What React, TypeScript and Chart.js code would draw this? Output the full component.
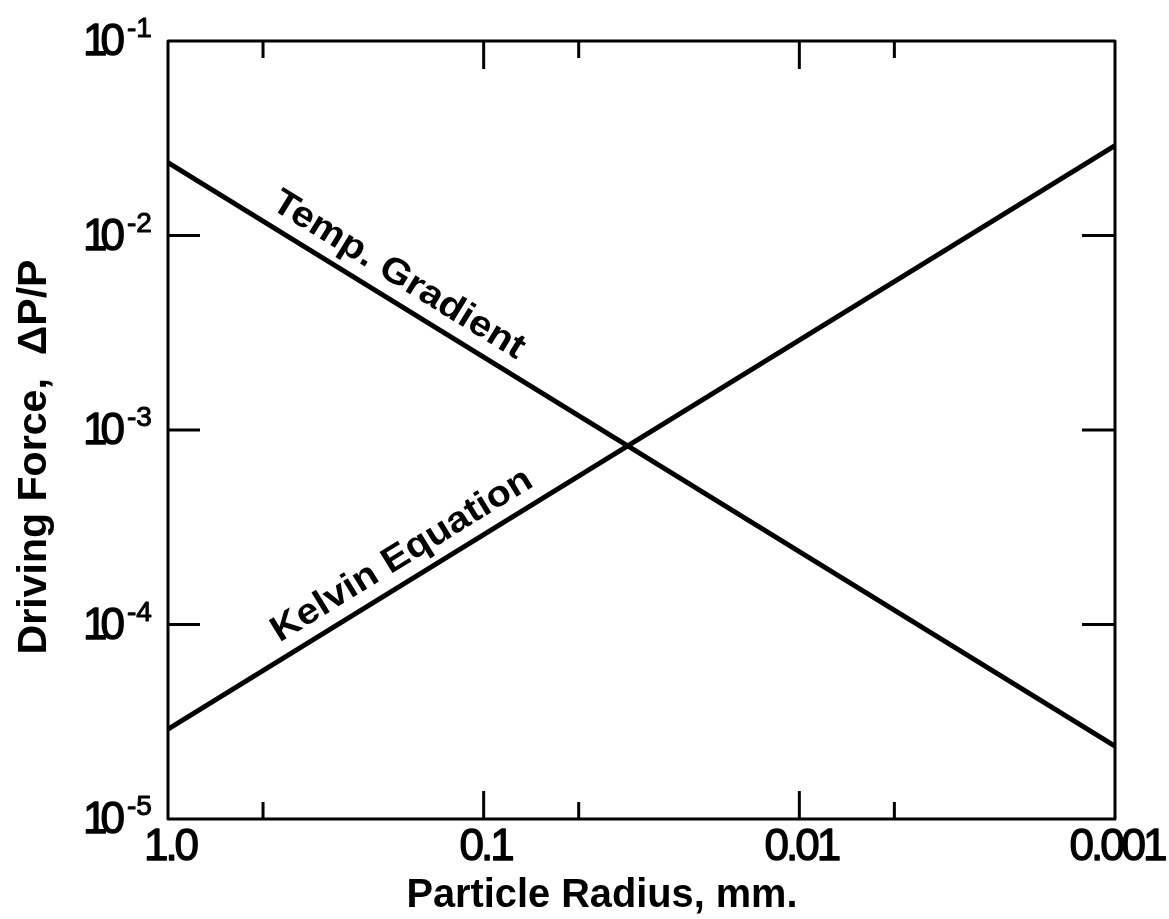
import { useEffect, useRef } from "react";
import { Chart, registerables } from "chart.js";

Chart.register(...registerables);

// ---- data ----
const radius = [1.0, 0.001];
const tempGradient = [2.37e-2, 2.37e-5];
const kelvinEquation = [2.9e-5, 2.9e-2];
const seriesNames = ["Temp. Gradient", "Kelvin Equation"];
const seriesLabelAt = [0.205, 0.165];

const xLabelValues = [1.0, 0.1, 0.01, 0.001];
const xLabelTexts = ["1.0", "0.1", "0.01", "0.001"];
const xMajorTickValues = [0.1, 0.01];
const xMinorTickValues = [0.5, 0.05, 0.005];
const yLabelValues = [1e-1, 1e-2, 1e-3, 1e-4, 1e-5];
const yExponents = ["-1", "-2", "-3", "-4", "-5"];
const yTickValues = [1e-2, 1e-3, 1e-4];

const xTitle = "Particle Radius, mm.";
const yTitle = "Driving Force,  ΔP/P";

const FONT = '"Liberation Sans", Arial, sans-serif';

function fitText(ctx: CanvasRenderingContext2D, text: string, target: number) {
  const w = ctx.measureText(text).width;
  return target / w;
}

function boldText(ctx: CanvasRenderingContext2D, t: string, x: number, y: number, w = 1.3) {
  ctx.fillText(t, x, y);
  ctx.lineWidth = w;
  ctx.strokeText(t, x, y);
}

const annotate = {
  id: "annotate",
  afterDraw(chart: any) {
    const ctx: CanvasRenderingContext2D = chart.ctx;
    const { left, right, top, bottom } = chart.chartArea;
    const xs = chart.scales.x;
    const ys = chart.scales.y;
    ctx.save();
    ctx.strokeStyle = "#000";
    ctx.fillStyle = "#000";
    ctx.lineCap = "butt";
    ctx.lineJoin = "round";

    // frame
    ctx.lineWidth = 3;
    ctx.strokeRect(left, top, right - left, bottom - top);

    // y ticks, both sides, inward
    ctx.lineWidth = 3;
    yTickValues.forEach((v) => {
      const py = ys.getPixelForValue(v);
      ctx.beginPath();
      ctx.moveTo(left, py);
      ctx.lineTo(left + 32, py);
      ctx.moveTo(right, py);
      ctx.lineTo(right - 33, py);
      ctx.stroke();
    });
    // x ticks, top and bottom, inward
    const xt = (vals: number[], len: number) => {
      vals.forEach((v) => {
        const px = xs.getPixelForValue(v);
        ctx.beginPath();
        ctx.moveTo(px, bottom);
        ctx.lineTo(px, bottom - len);
        ctx.moveTo(px, top);
        ctx.lineTo(px, top + len);
        ctx.stroke();
      });
    };
    xt(xMajorTickValues, 28);
    xt(xMinorTickValues, 17);

    // y labels 10^n
    yLabelValues.forEach((v, i) => {
      const py = ys.getPixelForValue(v);
      ctx.font = `44px ${FONT}`;
      (ctx as any).letterSpacing = "-7px";
      ctx.textAlign = "left";
      ctx.textBaseline = "alphabetic";
      boldText(ctx, "10", 83, py + 14);
      ctx.font = `28px ${FONT}`;
      (ctx as any).letterSpacing = "0px";
      boldText(ctx, yExponents[i], 127, py - 4, 1);
    });

    // x labels
    ctx.font = `44px ${FONT}`;
    (ctx as any).letterSpacing = "-3px";
    ctx.textAlign = "center";
    ctx.textBaseline = "alphabetic";
    xLabelValues.forEach((v, i) => {
      const px = xs.getPixelForValue(v);
      boldText(ctx, xLabelTexts[i], px + 2, 860);
    });
    (ctx as any).letterSpacing = "0px";

    // axis titles
    ctx.font = `bold 40px ${FONT}`;
    ctx.textAlign = "center";
    ctx.textBaseline = "alphabetic";
    let s = fitText(ctx, xTitle, 391);
    ctx.save();
    ctx.translate(602, 907);
    ctx.scale(s, 1);
    ctx.fillText(xTitle, 0, 0);
    ctx.restore();

    s = fitText(ctx, yTitle, 395);
    ctx.save();
    ctx.translate(46, 457);
    ctx.rotate(-Math.PI / 2);
    ctx.scale(s, 1);
    ctx.fillText(yTitle, 0, 0);
    ctx.restore();

    // series labels along lines
    const targets = [290, 300];
    chart.data.datasets.forEach((ds: any, i: number) => {
      const p0x = xs.getPixelForValue(ds.data[0].x);
      const p0y = ys.getPixelForValue(ds.data[0].y);
      const p1x = xs.getPixelForValue(ds.data[1].x);
      const p1y = ys.getPixelForValue(ds.data[1].y);
      const ang = Math.atan2(p1y - p0y, p1x - p0x);
      const px = xs.getPixelForValue(seriesLabelAt[i]);
      const py = p0y + (px - p0x) * Math.tan(ang);
      ctx.save();
      ctx.translate(px, py);
      ctx.rotate(ang);
      ctx.translate(0, -15);
      ctx.font = `bold 36px ${FONT}`;
      ctx.textAlign = "center";
      ctx.textBaseline = "alphabetic";
      const sc = fitText(ctx, seriesNames[i], targets[i]);
      ctx.scale(sc, 1);
      ctx.fillText(seriesNames[i], 0, 0);
      ctx.restore();
    });

    ctx.restore();
  },
};

export default function App() {
  const ref = useRef<HTMLCanvasElement>(null);
  useEffect(() => {
    if (!ref.current) return;
    const chart = new Chart(ref.current, {
      type: "line",
      data: {
        datasets: [
          {
            label: seriesNames[0],
            data: radius.map((r, i) => ({ x: r, y: tempGradient[i] })),
            borderColor: "#000",
            borderWidth: 5,
            pointRadius: 0,
            fill: false,
          },
          {
            label: seriesNames[1],
            data: radius.map((r, i) => ({ x: r, y: kelvinEquation[i] })),
            borderColor: "#000",
            borderWidth: 5,
            pointRadius: 0,
            fill: false,
          },
        ],
      },
      options: {
        responsive: false,
        animation: false,
        layout: { padding: { left: 168, right: 54, top: 41, bottom: 100 } },
        plugins: { legend: { display: false }, tooltip: { enabled: false } },
        scales: {
          x: { type: "logarithmic", reverse: true, min: 0.001, max: 1, display: false },
          y: { type: "logarithmic", min: 1e-5, max: 1e-1, display: false },
        },
      },
      plugins: [annotate],
    });
    return () => chart.destroy();
  }, []);
  return (
    <div style={{ position: "absolute", left: 0, top: 0, width: 1169, height: 919, background: "#fff" }}>
      <canvas ref={ref} width={1169} height={919} style={{ display: "block" }} />
    </div>
  );
}
